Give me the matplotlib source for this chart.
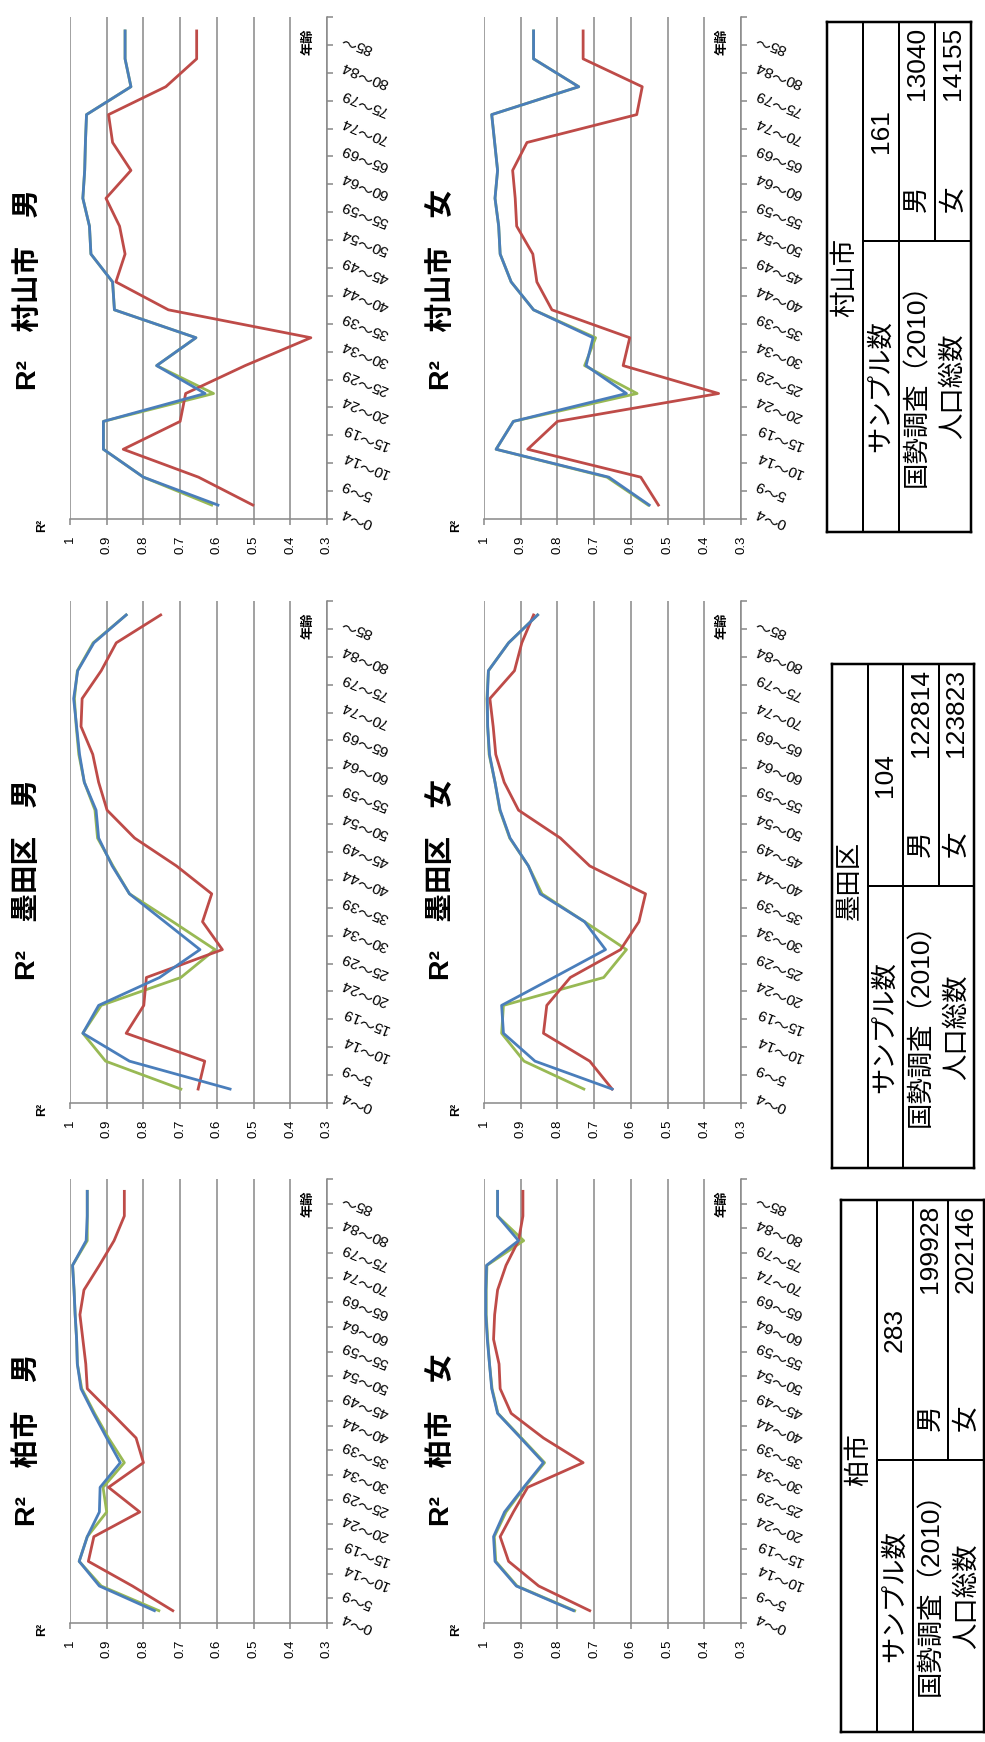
import numpy as np
import matplotlib
matplotlib.use('Agg')
import matplotlib.pyplot as plt
from matplotlib.lines import Line2D

plt.rcParams['font.family'] = ['Liberation Sans', 'Noto Sans CJK JP']

W, H = 985, 1742

ages = ['0～4', '5～9', '10～14', '15～19', '20～24', '25～29', '30～34', '35～39',
        '40～44', '45～49', '50～54', '55～59', '60～64', '65～69', '70～74',
        '75～79', '80～84', '85～']
r2_ticks = [1.0, 0.9, 0.8, 0.7, 0.6, 0.5, 0.4, 0.3]
r2_labels = ['1', '0.9', '0.8', '0.7', '0.6', '0.5', '0.4', '0.3']

# 柏市
kashiwa_m_blue = [0.77, 0.92, 0.975, 0.953, 0.92, 0.918, 0.863, 0.90, 0.936, 0.97, 0.98, 0.982, 0.986, 0.989, 0.993, 0.956, 0.953, 0.953]
kashiwa_m_green = [0.758, 0.915, 0.975, 0.953, 0.90, 0.91, 0.852, 0.895, 0.933, 0.968, 0.98, 0.982, 0.986, 0.989, 0.993, 0.953, 0.953, 0.953]
kashiwa_m_red = [0.72, 0.83, 0.95, 0.935, 0.81, 0.895, 0.80, 0.82, 0.886, 0.953, 0.957, 0.965, 0.973, 0.962, 0.92, 0.88, 0.852, 0.852]
kashiwa_f_blue = [0.756, 0.912, 0.97, 0.974, 0.944, 0.892, 0.838, 0.90, 0.963, 0.979, 0.985, 0.991, 0.995, 0.995, 0.993, 0.906, 0.963, 0.963]
kashiwa_f_green = [0.753, 0.91, 0.968, 0.972, 0.94, 0.89, 0.835, 0.898, 0.962, 0.978, 0.985, 0.99, 0.994, 0.994, 0.992, 0.892, 0.963, 0.963]
kashiwa_f_red = [0.712, 0.851, 0.933, 0.956, 0.92, 0.881, 0.73, 0.838, 0.926, 0.956, 0.959, 0.974, 0.971, 0.963, 0.94, 0.906, 0.894, 0.894]

# 墨田区
sumida_m_blue = [0.564, 0.838, 0.965, 0.922, 0.756, 0.646, 0.742, 0.838, 0.885, 0.922, 0.929, 0.961, 0.974, 0.982, 0.99, 0.979, 0.935, 0.847]
sumida_m_green = [0.698, 0.903, 0.965, 0.915, 0.698, 0.605, 0.72, 0.838, 0.883, 0.925, 0.932, 0.961, 0.976, 0.983, 0.988, 0.98, 0.937, 0.847]
sumida_m_red = [0.651, 0.633, 0.847, 0.799, 0.792, 0.585, 0.639, 0.614, 0.71, 0.824, 0.899, 0.922, 0.938, 0.97, 0.967, 0.915, 0.874, 0.753]
sumida_f_blue = [0.651, 0.861, 0.947, 0.952, 0.81, 0.669, 0.726, 0.847, 0.879, 0.929, 0.956, 0.97, 0.985, 0.99, 0.991, 0.988, 0.933, 0.854]
sumida_f_green = [0.728, 0.891, 0.952, 0.947, 0.674, 0.612, 0.726, 0.842, 0.879, 0.93, 0.957, 0.97, 0.986, 0.99, 0.992, 0.988, 0.933, 0.854]
sumida_f_red = [0.651, 0.712, 0.838, 0.829, 0.765, 0.628, 0.578, 0.56, 0.712, 0.792, 0.906, 0.945, 0.968, 0.975, 0.984, 0.917, 0.897, 0.865]

# 村山市
murayama_m_blue = [0.597, 0.80, 0.909, 0.909, 0.632, 0.764, 0.657, 0.879, 0.884, 0.943, 0.947, 0.965, 0.96, 0.958, 0.955, 0.834, 0.85, 0.85]
murayama_m_green = [0.614, 0.80, 0.909, 0.909, 0.609, 0.764, 0.657, 0.879, 0.884, 0.943, 0.947, 0.965, 0.96, 0.958, 0.955, 0.834, 0.85, 0.85]
murayama_m_red = [0.502, 0.65, 0.855, 0.70, 0.685, 0.523, 0.344, 0.732, 0.875, 0.85, 0.865, 0.902, 0.834, 0.884, 0.895, 0.739, 0.655, 0.655]
murayama_f_blue = [0.55, 0.66, 0.967, 0.92, 0.612, 0.722, 0.703, 0.865, 0.926, 0.956, 0.96, 0.97, 0.963, 0.971, 0.979, 0.742, 0.865, 0.865]
murayama_f_green = [0.553, 0.665, 0.967, 0.92, 0.583, 0.726, 0.696, 0.865, 0.926, 0.956, 0.96, 0.97, 0.963, 0.971, 0.979, 0.742, 0.865, 0.865]
murayama_f_red = [0.525, 0.573, 0.881, 0.80, 0.361, 0.621, 0.603, 0.815, 0.856, 0.867, 0.911, 0.915, 0.922, 0.883, 0.584, 0.569, 0.73, 0.73]

# 国勢調査の表
murayama_table = ['村山市', '161', '13040', '14155']
sumida_table = ['墨田区', '104', '122814', '123823']
kashiwa_table = ['柏市', '283', '199928', '202146']

BLUE = '#4a7ebb'
RED = '#be4b48'
GREEN = '#98b954'
GRID = '#888888'

PW = 257            # plot width in px
COL_X = [70, 484]
# (top, height, title centre) for each row
ROWS = [(17, 502, 290), (601, 502, 880), (1179, 444, 1440)]

fig = plt.figure(figsize=(W / 100, H / 100), dpi=100)


def fx(x):
    return x / W


def fy(y):
    return 1 - y / H


def draw_panel(left, row, title, blue, red, green):
    top, ph, ty = row
    ax = fig.add_axes([fx(left), fy(top + ph), PW / W, ph / H])
    ax.set_xlim(1.0, 0.3)
    ax.set_ylim(-0.5, len(ages) - 0.5)
    for s in ['top', 'left']:
        ax.spines[s].set_visible(False)
    for s in ['bottom', 'right']:
        ax.spines[s].set_color(GRID)
        ax.spines[s].set_linewidth(1.1)
    ax.set_xticks(r2_ticks)
    ax.set_xticklabels(r2_labels, rotation=90, va='top', ha='center', fontsize=9.5)
    ax.tick_params(axis='x', direction='out', length=4, width=1.1, color=GRID, pad=8)
    ax.xaxis.grid(True, color=GRID, linewidth=1.1)
    ax.set_axisbelow(True)
    ax.yaxis.tick_right()
    ax.set_yticks(np.arange(-0.5, len(ages), 1))
    ax.set_yticklabels([])
    ax.tick_params(axis='y', direction='out', length=4, width=1.1, color=GRID)

    y = np.arange(len(ages))
    ax.plot(green, y, color=GREEN, lw=2, clip_on=False)
    ax.plot(red, y, color=RED, lw=2, clip_on=False)
    ax.plot(blue, y, color=BLUE, lw=2, clip_on=False)

    for i, a in enumerate(ages):
        ax.annotate(a, xy=(1, i), xycoords=('axes fraction', 'data'),
                    xytext=(11, -4.5), textcoords='offset points',
                    rotation=158, rotation_mode='anchor', ha='right', va='center',
                    fontsize=11, annotation_clip=False)

    fig.text(fx(left + PW - 19), fy(top + 25), '年齢', rotation=90,
             ha='center', va='center', fontsize=9.5, fontweight='bold')
    fig.text(fx(left - 28), fy(top + ph + 6), 'R²', rotation=90,
             ha='center', va='center', fontsize=9, fontweight='bold')
    fig.text(fx(left - 42), fy(ty), title, rotation=90,
             ha='center', va='center', fontsize=20.5, fontweight='bold')


def line(x0, y0, x1, y1, lw=2.0):
    fig.add_artist(Line2D([fx(x0), fx(x1)], [fy(y0), fy(y1)], color='black',
                          lw=lw * 0.72, solid_capstyle='projecting'))


def draw_table(x0, x1, y0, y1, ydiv, yhead, rows):
    name, n, male, female = rows
    sw = (x1 - x0) / 4
    xs = [x0 + sw * k for k in range(5)]
    # outer frame
    line(x0, y0, x1, y0, 2.5)
    line(x0, y1, x1, y1, 2.5)
    line(x0, y0, x0, y1, 2.5)
    line(x1, y0, x1, y1, 2.5)
    # inner lines
    line(xs[1], y0, xs[1], y1)
    line(xs[2], y0, xs[2], y1)
    line(xs[3], y0, xs[3], ydiv)
    line(xs[1], ydiv, x1, ydiv)

    fs = 19
    cx = [xs[k] + sw / 2 for k in range(4)]
    lab_c = (ydiv + y1) / 2
    fig.text(fx(cx[0]), fy(yhead), name, rotation=90, ha='center', va='center', fontsize=fs)
    fig.text(fx(cx[1]), fy(lab_c), 'サンプル数', rotation=90, ha='center', va='center', fontsize=fs)
    fig.text(fx(cx[1]), fy((y0 + ydiv) / 2), n, rotation=90, ha='center', va='center', fontsize=fs)
    fig.text(fx(cx[2]), fy(lab_c - 8), '国勢調査（2010）', rotation=90, ha='center', va='center', fontsize=fs)
    fig.text(fx(cx[3]), fy(lab_c), '人口総数', rotation=90, ha='center', va='center', fontsize=fs)
    fig.text(fx(cx[2]), fy(ydiv - 42), '男', rotation=90, ha='center', va='center', fontsize=fs)
    fig.text(fx(cx[3]), fy(ydiv - 42), '女', rotation=90, ha='center', va='center', fontsize=fs)
    fig.text(fx(cx[2]), fy(y0 + 5), male, rotation=90, ha='center', va='top', fontsize=fs)
    fig.text(fx(cx[3]), fy(y0 + 5), female, rotation=90, ha='center', va='top', fontsize=fs)


draw_panel(COL_X[0], ROWS[0], 'R²　村山市　男', murayama_m_blue, murayama_m_red, murayama_m_green)
draw_panel(COL_X[1], ROWS[0], 'R²　村山市　女', murayama_f_blue, murayama_f_red, murayama_f_green)
draw_panel(COL_X[0], ROWS[1], 'R²　墨田区　男', sumida_m_blue, sumida_m_red, sumida_m_green)
draw_panel(COL_X[1], ROWS[1], 'R²　墨田区　女', sumida_f_blue, sumida_f_red, sumida_f_green)
draw_panel(COL_X[0], ROWS[2], 'R²　柏市　男', kashiwa_m_blue, kashiwa_m_red, kashiwa_m_green)
draw_panel(COL_X[1], ROWS[2], 'R²　柏市　女', kashiwa_f_blue, kashiwa_f_red, kashiwa_f_green)

draw_table(827, 971, 22, 532, 241, 277, murayama_table)
draw_table(832, 974, 664, 1168, 886, 880, sumida_table)
draw_table(841, 984, 1200, 1732, 1460, 1460, kashiwa_table)

fig.savefig('out.png', dpi=100)
